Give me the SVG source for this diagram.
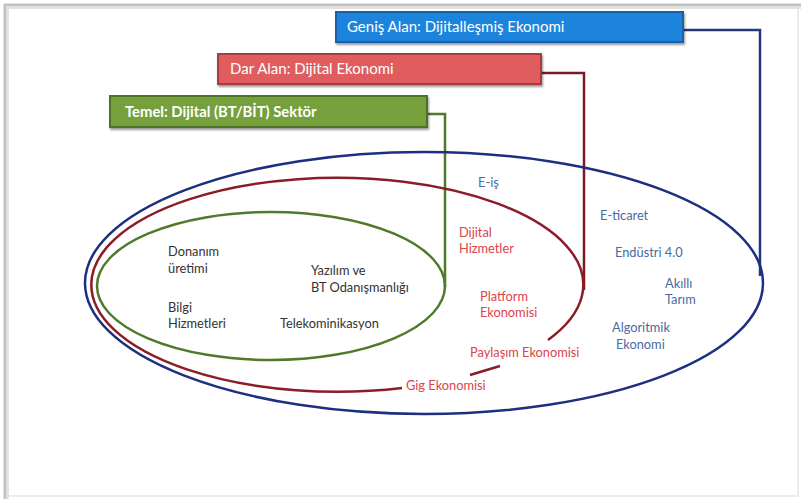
<svg xmlns="http://www.w3.org/2000/svg" width="801" height="499" viewBox="0 0 801 499">
<defs>
<style>
.box{stroke-width:2}
.bt{font-family:Lato,"Open Sans","Liberation Sans",sans-serif;font-size:15px;fill:#fff}
.bb{font-weight:bold;font-size:14.8px}
.t{font-family:Lato,"Open Sans","Liberation Sans",sans-serif;font-size:12.8px}
.k{fill:#333}
.r{fill:#d9434b}
.b{fill:#4a6aa0}
.c{fill:none;stroke-width:2.5}
</style>
<filter id="sh" x="-10%" y="-10%" width="120%" height="140%"><feGaussianBlur in="SourceAlpha" stdDeviation="1.2"/><feOffset dx="1" dy="2"/><feComponentTransfer><feFuncA type="linear" slope="0.4"/></feComponentTransfer><feMerge><feMergeNode/><feMergeNode in="SourceGraphic"/></feMerge></filter>
</defs>
<rect width="801" height="499" fill="#fff"/>
<path d="M5,499 V5 H801" fill="none" stroke="#9a9a9a" stroke-width="3" opacity="0.6"/>
<path d="M8,499 V8 H801" fill="none" stroke="#cfcfcf" stroke-width="2" opacity="0.6"/>
<path d="M8,496 H798 V8" fill="none" stroke="#e6e6e6" stroke-width="1.5"/>
<g id="connectors">
<path class="c" d="M683,30 H760 V276" stroke="#223a7a"/>
<path class="c" d="M541,73 H584 V290" stroke="#7a1a24"/>
<path class="c" d="M427,114 H445 V287" stroke="#4e7a2a"/>
</g>
<g id="outer">
<ellipse cx="424" cy="283" rx="339" ry="131" fill="none" stroke="#1c2f80" stroke-width="2.5"/>
</g>
<g id="middle">
<path d="M402,388 A246,107 0 1 1 548,340" fill="none" stroke="#8c1c28" stroke-width="2.5"/>
<path d="M470,375 L500,366" fill="none" stroke="#8c1c28" stroke-width="2.5"/>
</g>
<g id="inner">
<ellipse cx="271" cy="286" rx="174" ry="74" fill="none" stroke="#4e7a2a" stroke-width="2.5"/>
</g>
<g id="box-blue">
<rect class="box" x="336" y="12" width="347" height="30" fill="#1e84dc" stroke="#1a5fa6" filter="url(#sh)"/>
<text class="bt" x="347" y="32">Geniş Alan: Dijitalleşmiş Ekonomi</text>
</g>
<g id="box-red">
<rect class="box" x="218" y="54" width="323" height="30" fill="#df5b5e" stroke="#a83a3f" filter="url(#sh)"/>
<text class="bt" x="230" y="74">Dar Alan: Dijital Ekonomi</text>
</g>
<g id="box-green">
<rect class="box" x="110" y="96" width="317" height="31" fill="#76a03a" stroke="#4f7228" filter="url(#sh)"/>
<text class="bt bb" x="125" y="117">Temel: Dijital (BT/BİT) Sektör</text>
</g>
<g id="labels">
<text class="t k" x="168" y="256">Donanım</text>
<text class="t k" x="168" y="273">üretimi</text>
<text class="t k" x="311" y="275">Yazılım ve</text>
<text class="t k" x="311" y="292">BT Odanışmanlığı</text>
<text class="t k" x="168" y="312">Bilgi</text>
<text class="t k" x="168" y="328">Hizmetleri</text>
<text class="t k" x="280" y="328">Telekominikasyon</text>
<text class="t b" x="478" y="187">E-iş</text>
<text class="t r" x="459" y="237">Dijital</text>
<text class="t r" x="459" y="253">Hizmetler</text>
<text class="t r" x="480" y="301">Platform</text>
<text class="t r" x="480" y="317">Ekonomisi</text>
<text class="t r" x="470" y="357">Paylaşım Ekonomisi</text>
<text class="t r" x="406" y="390">Gig Ekonomisi</text>
<text class="t b" x="600" y="220">E-ticaret</text>
<text class="t b" x="615" y="257">Endüstri 4.0</text>
<text class="t b" x="665" y="288">Akıllı</text>
<text class="t b" x="665" y="304">Tarım</text>
<text class="t b" x="612" y="332">Algoritmik</text>
<text class="t b" x="616" y="349">Ekonomi</text>
</g>
</svg>
